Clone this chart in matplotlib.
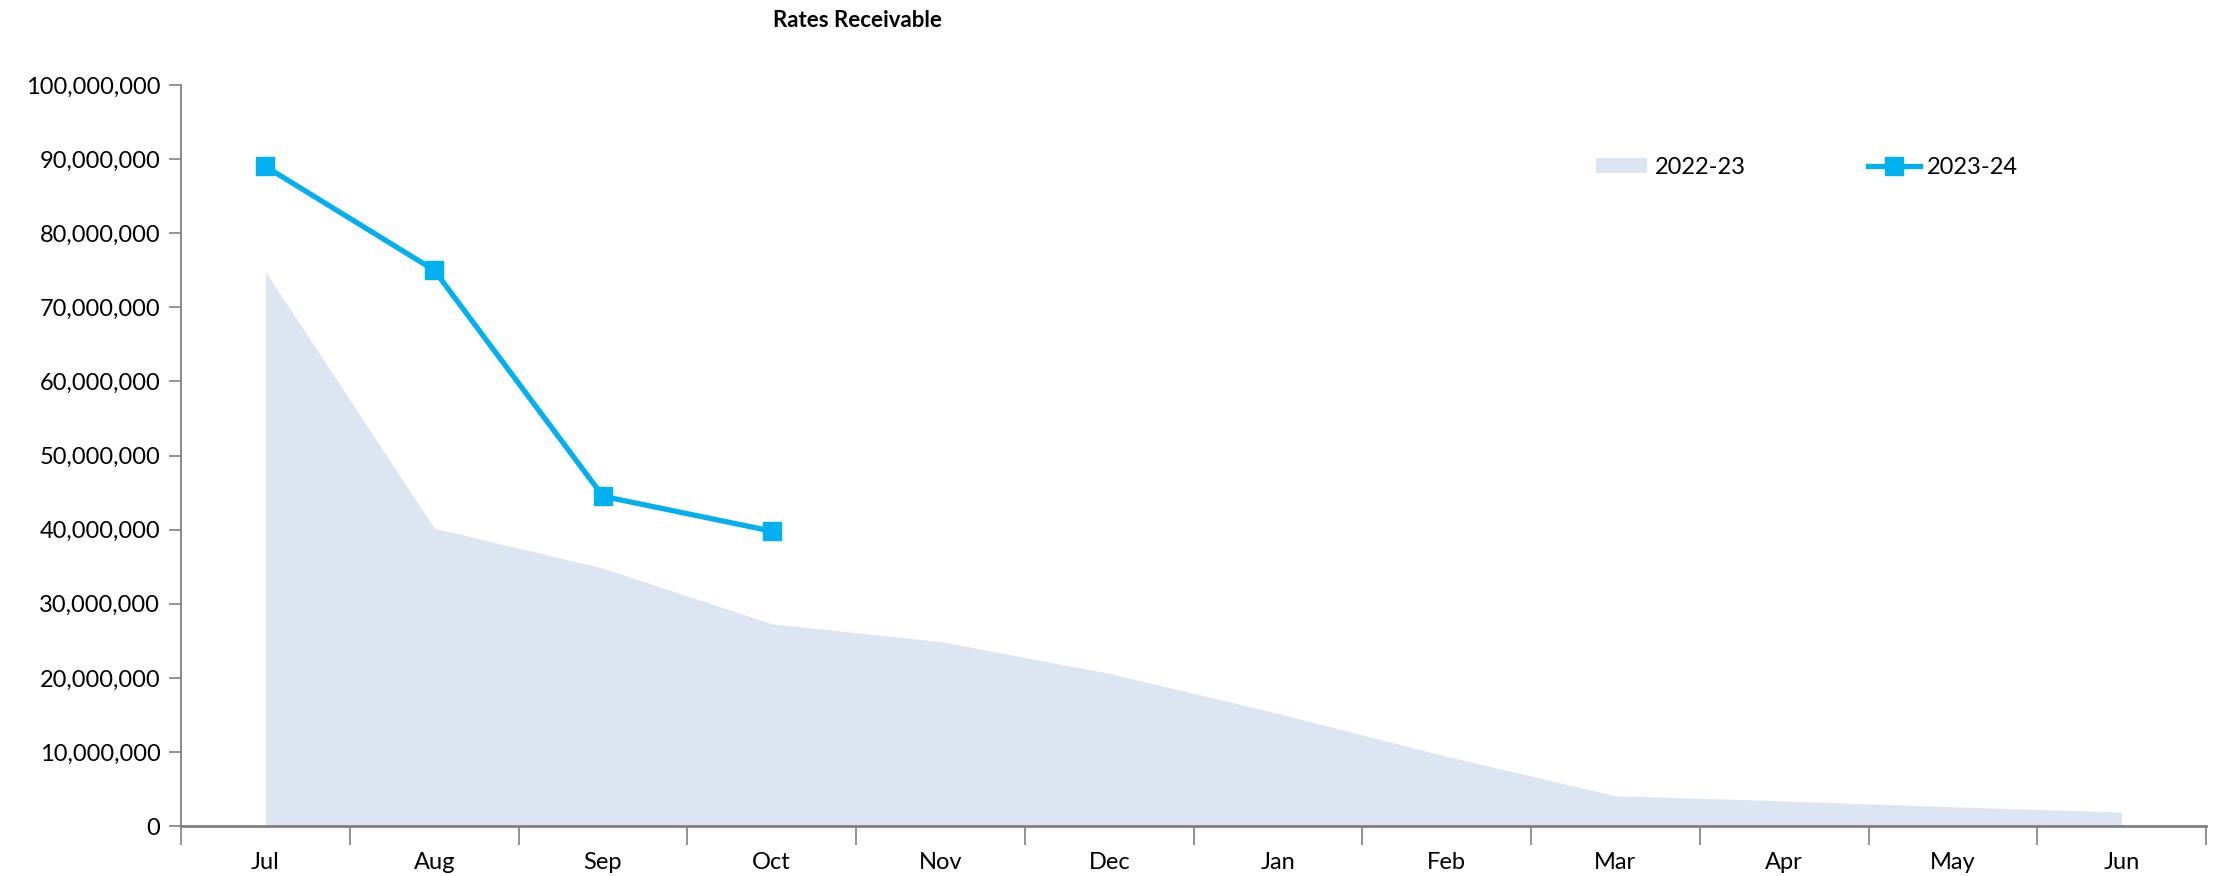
import matplotlib
matplotlib.use("Agg")
import matplotlib.pyplot as plt
from matplotlib.ticker import FuncFormatter, FixedLocator
from matplotlib.patches import Patch
from matplotlib.lines import Line2D

months = ["Jul", "Aug", "Sep", "Oct", "Nov", "Dec", "Jan", "Feb", "Mar", "Apr", "May", "Jun"]
fy2223 = [74.8e6, 40.2e6, 34.8e6, 27.3e6, 24.9e6, 20.6e6, 15.2e6, 9.4e6, 4.1e6, 3.4e6, 2.6e6, 1.9e6]
fy2324 = [89.0e6, 75.0e6, 44.5e6, 39.8e6]
series_names = ["2022-23", "2023-24"]
title = "Rates Receivable"

plt.rcParams['font.family'] = ['Lato', 'DejaVu Sans']

fig = plt.figure(figsize=(22.14, 8.76), dpi=100)
ax = fig.add_axes([0.0818, 0.057, 0.9146, 0.846])

area_color = "#DCE6F2"
line_color = "#00B0F0"

x = list(range(len(months)))
ax.fill_between(x, 0, fy2223, color=area_color, linewidth=0)
ax.plot(range(len(fy2324)), fy2324, color=line_color, linewidth=3.8,
        marker="s", markersize=13.5, markerfacecolor=line_color, markeredgecolor=line_color)

ax.set_xlim(-0.5, len(months) - 0.5)
ax.set_ylim(0, 100e6)
ax.set_yticks([i * 10e6 for i in range(11)])
ax.yaxis.set_major_formatter(FuncFormatter(lambda v, p: f"{int(v):,}"))

# category boundaries as major ticks, labels on minor ticks
ax.xaxis.set_major_locator(FixedLocator([i - 0.5 for i in range(len(months) + 1)]))
ax.set_xticklabels([])
ax.xaxis.set_minor_locator(FixedLocator(x))
ax.set_xticklabels(months, minor=True)
ax.tick_params(axis="x", which="major", length=14, width=1.2, color="#808080", direction="out")
ax.tick_params(axis="x", which="minor", length=0, pad=19, labelsize=17)
ax.tick_params(axis="y", length=9, width=1.2, color="#808080", labelsize=17, pad=6)

for s in ["top", "right"]:
    ax.spines[s].set_visible(False)
ax.spines["left"].set_color("#808080")
ax.spines["left"].set_linewidth(1.3)
ax.spines["bottom"].set_color("#808080")
ax.spines["bottom"].set_linewidth(2.0)

fig.text(0.3875, 0.977, title, ha="center", va="center", fontsize=16, fontweight="bold")

handles = [Patch(facecolor=area_color, edgecolor="none"),
           Line2D([0], [0], color=line_color, linewidth=3.8, marker="s", markersize=13.5,
                  markerfacecolor=line_color, markeredgecolor=line_color)]
leg = ax.legend(handles, series_names, loc="center left", bbox_to_anchor=(0.688, 0.889),
                ncol=2, frameon=False, fontsize=17, columnspacing=5.2,
                handlelength=2.2, handletextpad=0.3, handleheight=0.6)

fig.savefig("out.png", dpi=100)
